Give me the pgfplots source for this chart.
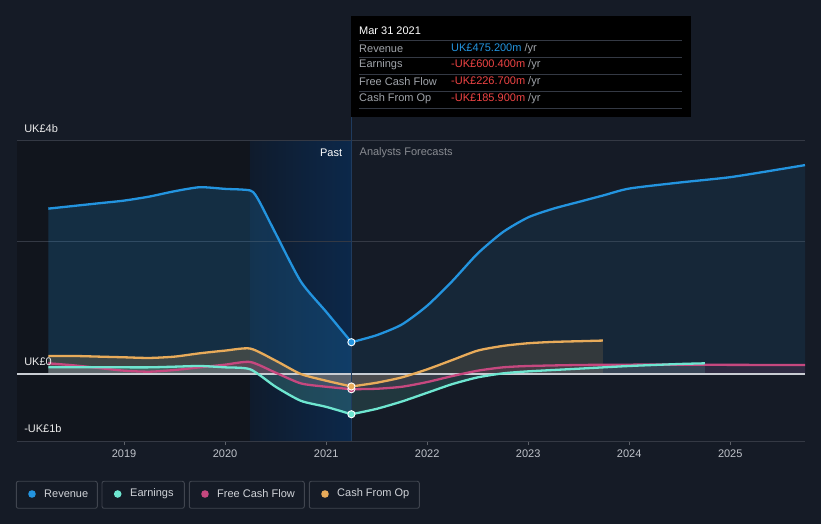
\documentclass[border=0pt]{standalone}
\usepackage{pgfplots}
\pgfplotsset{compat=1.18}
\usepackage{fontspec}
\setmainfont{Liberation Sans}
\definecolor{bg}{HTML}{151B26}
\definecolor{darkreg}{HTML}{11151D}
\definecolor{bandL}{HTML}{0F1B2C}
\definecolor{bandR}{HTML}{0C284A}
\definecolor{rev}{HTML}{2394DF}
\definecolor{earn}{HTML}{6EE6D0}
\definecolor{fcf}{HTML}{C6487F}
\definecolor{cfo}{HTML}{E8AB5A}
\definecolor{gridc}{HTML}{343944}
\definecolor{zeroc}{HTML}{C8CCD2}
\definecolor{lbl}{HTML}{A0A4AA}
\definecolor{ticklbl}{HTML}{BFC3CA}
\definecolor{neg}{HTML}{EF4444}
\definecolor{boxc}{HTML}{40454F}
\definecolor{legtxt}{HTML}{D0D3D8}
\definecolor{vline}{HTML}{1F3B5E}

\pgfplotstableread{
x y
2018.25 2.47
2018.5 2.51
2018.75 2.55
2019.0 2.59
2019.25 2.65
2019.5 2.73
2019.75 2.79
2020.0 2.765
2020.25 2.74
2020.33 2.60
2020.5 2.10
2020.75 1.38
2021.0 0.93
2021.25 0.475
}\revpast
\pgfplotstableread{
x y
2021.25 0.475
2021.5 0.58
2021.75 0.74
2022.0 1.02
2022.25 1.39
2022.5 1.80
2022.75 2.12
2023.0 2.34
2023.25 2.47
2023.5 2.57
2023.75 2.67
2024.0 2.77
2024.5 2.86
2025.0 2.94
2025.5 3.06
2025.74 3.12
}\revfut
\pgfplotstableread{
x y
2018.25 0.10
2018.5 0.10
2018.75 0.10
2019.0 0.10
2019.25 0.10
2019.5 0.11
2019.75 0.12
2020.0 0.10
2020.25 0.07
2020.5 -0.19
2020.75 -0.40
2021.0 -0.49
2021.25 -0.6004
}\earnpast
\pgfplotstableread{
x y
2021.25 -0.6004
2021.5 -0.52
2021.75 -0.41
2022.0 -0.28
2022.25 -0.15
2022.5 -0.05
2022.75 0.01
2023.0 0.04
2023.5 0.08
2024.0 0.12
2024.5 0.15
2024.75 0.16
}\earnfut
\pgfplotstableread{
x y
2018.25 0.16
2018.5 0.13
2018.75 0.09
2019.0 0.05
2019.25 0.035
2019.5 0.06
2019.75 0.10
2020.0 0.14
2020.25 0.18
2020.5 0.02
2020.75 -0.14
2021.0 -0.19
2021.25 -0.2267
}\fcfpast
\pgfplotstableread{
x y
2021.25 -0.2267
2021.5 -0.22
2021.75 -0.19
2022.0 -0.12
2022.25 -0.03
2022.5 0.05
2022.75 0.10
2023.0 0.12
2023.5 0.135
2024.0 0.14
2024.5 0.14
2025.0 0.137
2025.74 0.135
}\fcffut
\pgfplotstableread{
x y
2018.25 0.27
2018.5 0.27
2018.75 0.26
2019.0 0.25
2019.25 0.24
2019.5 0.26
2019.75 0.31
2020.0 0.35
2020.25 0.38
2020.5 0.20
2020.75 0.00
2021.0 -0.10
2021.25 -0.1859
}\cfopast
\pgfplotstableread{
x y
2021.25 -0.1859
2021.5 -0.13
2021.75 -0.05
2022.0 0.07
2022.25 0.21
2022.5 0.35
2022.75 0.42
2023.0 0.46
2023.25 0.48
2023.5 0.49
2023.74 0.50
}\cfofut

\begin{document}
\begin{tikzpicture}
\fill[bg] (0,0) rectangle (821bp,524bp);
\begin{axis}[
  at={(17bp,83bp)}, anchor=south west,
  scale only axis, width=788bp, height=300bp,
  xmin=2017.94, xmax=2025.74, ymin=-1, ymax=3.48,
  axis y line=none, axis x line*=bottom, axis on top,
  x axis line style={color=gridc, line width=1bp, -},
  xtick={2019,2020,2021,2022,2023,2024,2025},
  ytick=\empty,
  tick align=outside, major tick length=4bp,
  tick style={color=gridc!80!white, line width=1bp},
  xticklabel style={font=\fontsize{11bp}{13bp}\selectfont, text=ticklbl, /pgf/number format/1000 sep={}, /pgf/number format/assume math mode=true},
  every tick label/.append style={yshift=-1bp},
  clip=false,
  every axis plot/.append style={smooth, tension=0.4},
]
\fill[darkreg] (axis cs:2017.94,-1) rectangle (axis cs:2020.245,3.48);
\shade[left color=bandL, right color=bandR] (axis cs:2020.245,-1) rectangle (axis cs:2021.25,3.48);
\draw[gridc, line width=1bp] (axis cs:2017.94,3.48) -- (axis cs:2025.74,3.48);
\draw[gridc, line width=1bp] (axis cs:2017.94,1.985) -- (axis cs:2025.74,1.985);

% area fills to zero
\addplot[fill=rev, fill opacity=0.2, draw=none] table[x=x,y=y] {\revpast} \closedcycle;
\addplot[fill=rev, fill opacity=0.1, draw=none] table[x=x,y=y] {\revfut} \closedcycle;
\addplot[fill=cfo, fill opacity=0.2, draw=none] table[x=x,y=y] {\cfopast} \closedcycle;
\addplot[fill=cfo, fill opacity=0.14, draw=none] table[x=x,y=y] {\cfofut} \closedcycle;
\addplot[fill=fcf, fill opacity=0.2, draw=none] table[x=x,y=y] {\fcfpast} \closedcycle;
\addplot[fill=fcf, fill opacity=0.14, draw=none] table[x=x,y=y] {\fcffut} \closedcycle;
\addplot[fill=earn, fill opacity=0.2, draw=none] table[x=x,y=y] {\earnpast} \closedcycle;
\addplot[fill=earn, fill opacity=0.14, draw=none] table[x=x,y=y] {\earnfut} \closedcycle;

\draw[zeroc, line width=1.6bp] (axis cs:2017.94,0) -- (axis cs:2025.74,0);

\addplot[rev, line width=2.3bp] table[x=x,y=y] {\revpast};
\addplot[rev, line width=2.3bp] table[x=x,y=y] {\revfut};
\addplot[cfo, line width=2.3bp] table[x=x,y=y] {\cfopast};
\addplot[cfo, line width=2.3bp] table[x=x,y=y] {\cfofut};
\addplot[fcf, line width=2.3bp] table[x=x,y=y] {\fcfpast};
\addplot[fcf, line width=2.3bp] table[x=x,y=y] {\fcffut};
\addplot[earn, line width=2.3bp] table[x=x,y=y] {\earnpast};
\addplot[earn, line width=2.3bp] table[x=x,y=y] {\earnfut};

\draw[vline, line width=1bp] (axis cs:2021.25,-1) -- (axis cs:2021.25,3.48);

\addplot[only marks, mark=*, mark size=3.6bp, mark options={draw=white, fill=fcf, line width=0.9bp}] coordinates {(2021.25,-0.2267)};
\addplot[only marks, mark=*, mark size=3.6bp, mark options={draw=white, fill=cfo, line width=0.9bp}] coordinates {(2021.25,-0.1859)};
\addplot[only marks, mark=*, mark size=3.6bp, mark options={draw=white, fill=earn, line width=0.9bp}] coordinates {(2021.25,-0.6004)};
\addplot[only marks, mark=*, mark size=3.6bp, mark options={draw=white, fill=rev, line width=0.9bp}] coordinates {(2021.25,0.4752)};

\node[anchor=east, inner sep=0, text=white, font=\fontsize{11bp}{13bp}\selectfont] at (axis cs:2021.16,3.30) {Past};
\node[anchor=west, inner sep=0, text=lbl!85!black, font=\fontsize{11bp}{13bp}\selectfont] at (axis cs:2021.33,3.30) {Analysts Forecasts};
\node[anchor=west, inner sep=0, text=white!92!black, font=\fontsize{11bp}{13bp}\selectfont] at (axis cs:2018.01,3.66) {UK£4b};
\node[anchor=west, inner sep=0, text=white!92!black, font=\fontsize{11bp}{13bp}\selectfont] at (axis cs:2018.01,0.18) {UK£0};
\node[anchor=west, inner sep=0, text=white!92!black, font=\fontsize{11bp}{13bp}\selectfont] at (axis cs:2018.01,-0.82) {-UK£1b};
\end{axis}

% vertical marker line above plot
\draw[vline, line width=1bp] (351bp,383bp) -- (351bp,407bp);
% tooltip
\fill[black] (351bp,508bp) rectangle (690.7bp,407.3bp);
\begin{scope}[every node/.style={anchor=west, inner sep=0, font=\fontsize{11bp}{13bp}\selectfont}]
\node[text=white] at (359bp,493bp) {Mar 31 2021};
\foreach \yy in {483.3,466.7,449.7,432.7,415.7} {\draw[gridc, line width=0.8bp] (359bp,\yy bp) -- (682bp,\yy bp);}
\node[text=lbl] at (359bp,475.7bp) {Revenue};
\node[text=lbl] at (359bp,459bp) {Earnings};
\node[text=lbl] at (359bp,442bp) {Free Cash Flow};
\node[text=lbl] at (359bp,425bp) {Cash From Op};
\node at (451bp,475.7bp) {\textcolor{rev}{UK£475.200m} \textcolor{lbl}{/yr}};
\node at (451bp,459bp) {\textcolor{neg}{-UK£600.400m} \textcolor{lbl}{/yr}};
\node at (451bp,442bp) {\textcolor{neg}{-UK£226.700m} \textcolor{lbl}{/yr}};
\node at (451bp,425bp) {\textcolor{neg}{-UK£185.900m} \textcolor{lbl}{/yr}};
\end{scope}

% legend
\begin{scope}[every node/.style={anchor=west, inner sep=0, text=legtxt, font=\fontsize{11bp}{13bp}\selectfont}]
\draw[boxc, line width=0.9bp, rounded corners=2bp] (16.3bp,15.7bp) rectangle (97.3bp,42.7bp);
\fill[rev] (32bp,30bp) circle (3.8bp);
\node at (44bp,30bp) {Revenue};
\draw[boxc, line width=0.9bp, rounded corners=2bp] (102bp,15.7bp) rectangle (184.3bp,42.7bp);
\fill[earn] (117.7bp,30bp) circle (3.8bp);
\node at (130bp,30bp) {Earnings};
\draw[boxc, line width=0.9bp, rounded corners=2bp] (189.3bp,15.7bp) rectangle (304.3bp,42.7bp);
\fill[fcf] (205bp,30bp) circle (3.8bp);
\node at (217bp,30bp) {Free Cash Flow};
\draw[boxc, line width=0.9bp, rounded corners=2bp] (309.3bp,15.7bp) rectangle (419.3bp,42.7bp);
\fill[cfo] (325bp,30bp) circle (3.8bp);
\node at (337bp,30bp) {Cash From Op};
\end{scope}
\end{tikzpicture}
\end{document}
